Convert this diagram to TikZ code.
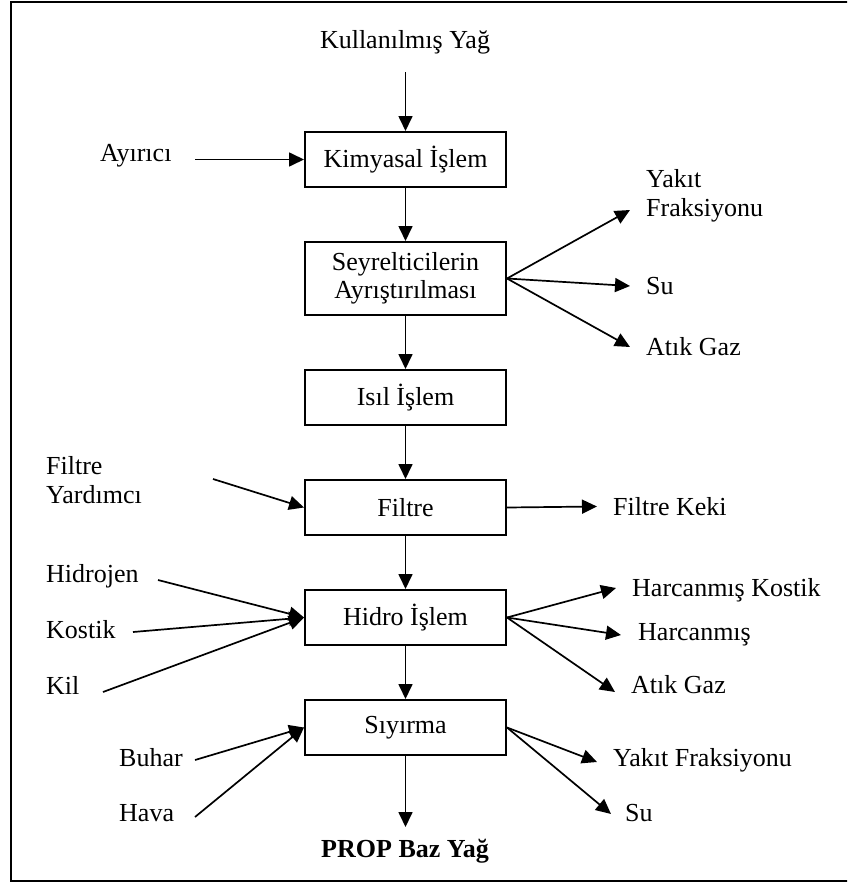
\documentclass[tikz,border=0pt]{standalone}
\usepackage{fontspec}
\setmainfont{Liberation Serif}
\usetikzlibrary{arrows.meta,positioning}

\begin{document}
\begin{tikzpicture}[x=1pt, y=-1pt, node distance=110pt,
    box/.style={draw, rectangle, line width=2pt, minimum width=201pt, minimum height=55pt, align=center, font=\fontsize{26}{28.5}\selectfont},
    lbl/.style={inner sep=0pt, anchor=west, align=left, font=\fontsize{26}{28.5}\selectfont},
    flow/.style={-{Triangle[length=15pt,width=14pt]}, line width=1.7pt}]
        \clip (0,0) rectangle (847,883);
        \draw[line width=2.5pt] (11,2) rectangle (880,881);

        % Nodes
        \node[box] (Kimya) at (405.5,159.5) {Kimyasal İşlem};
        \node[box, below of=Kimya, yshift=-9pt, minimum height=73pt] (Seyr) {Seyrelticilerin\\Ayrıştırılması};
        \node[box, below of=Seyr, yshift=-9pt] (Isil) {Isıl İşlem};
        \node[box, below of=Isil] (Filtre) {Filtre};
        \node[box, below of=Filtre] (Hidro) {Hidro İşlem};
        \node[box, below of=Hidro] (Siyir) {Sıyırma};

        % Inputs and outputs
        \node[lbl, anchor=center] (Kul) at (405,42) {Kullanılmış Yağ};
        \node[lbl] (Ayr) at (100,156) {Ayırıcı};
        \node[lbl] (Yakit1) at (646,196) {Yakıt\\Fraksiyonu};
        \node[lbl] (Su1) at (646,286) {Su};
        \node[lbl] (Atik1) at (646,347) {Atık Gaz};
        \node[lbl] (Yard) at (46,480) {Filtre\\Yardımcı};
        \node[lbl] (Kek) at (613,507) {Filtre Keki};
        \node[lbl] (Hidrojen) at (46,576) {Hidrojen};
        \node[lbl] (Kostik) at (46,630) {Kostik};
        \node[lbl] (Kil) at (46,685) {Kil};
        \node[lbl] (HarKos) at (632,590) {Harcanmış Kostik};
        \node[lbl] (Harc) at (638,635) {Harcanmış};
        \node[lbl] (Atik2) at (631,685) {Atık Gaz};
        \node[lbl] (Buhar) at (119,758) {Buhar};
        \node[lbl] (Hava) at (119,813) {Hava};
        \node[lbl] (Yakit2) at (613,760) {Yakıt Fraksiyonu};
        \node[lbl] (Su2) at (625,813) {Su};
        \node[lbl, anchor=center, font=\fontsize{26}{28.5}\selectfont\bfseries] (Prop) at (405,851) {PROP Baz Yağ};

        % Arrow ends
        \coordinate (cKul) at (405.5,72);
        \coordinate (cAyr) at (195,159.5);
        \coordinate (tYakit1) at (630,210);
        \coordinate (tSu1) at (630,286);
        \coordinate (tAtik1) at (630,347);
        \coordinate (cYard) at (213,479);
        \coordinate (tKek) at (597,506.5);
        \coordinate (cHidrojen) at (158,580);
        \coordinate (cKostik) at (133,632);
        \coordinate (cKil) at (103,692);
        \coordinate (tHarKos) at (616,588);
        \coordinate (tHarc) at (621,635);
        \coordinate (tAtik2) at (615,692);
        \coordinate (cBuhar) at (195,760);
        \coordinate (cHava) at (195,817);
        \coordinate (tYakit2) at (597,762);
        \coordinate (tSu2) at (611,814);
        \coordinate (tProp) at (405.5,827);

        % Arrows
        \draw[flow] (cKul) -- (Kimya);
        \draw[flow] (cAyr) -- (Kimya.west);
        \draw[flow] (Kimya) -- (Seyr);
        \draw[flow] (Seyr.east) -- (tYakit1);
        \draw[flow] (Seyr.east) -- (tSu1);
        \draw[flow] (Seyr.east) -- (tAtik1);
        \draw[flow] (Seyr) -- (Isil);
        \draw[flow] (Isil) -- (Filtre);
        \draw[flow] (cYard) -- (Filtre.west);
        \draw[flow] (Filtre.east) -- (tKek);
        \draw[flow] (Filtre) -- (Hidro);
        \draw[flow] (cHidrojen) -- (Hidro.west);
        \draw[flow] (cKostik) -- (Hidro.west);
        \draw[flow] (cKil) -- (Hidro.west);
        \draw[flow] (Hidro.east) -- (tHarKos);
        \draw[flow] (Hidro.east) -- (tHarc);
        \draw[flow] (Hidro.east) -- (tAtik2);
        \draw[flow] (Hidro) -- (Siyir);
        \draw[flow] (cBuhar) -- (Siyir.west);
        \draw[flow] (cHava) -- (Siyir.west);
        \draw[flow] (Siyir.east) -- (tYakit2);
        \draw[flow] (Siyir.east) -- (tSu2);
        \draw[flow] (Siyir) -- (tProp);
\end{tikzpicture}
\end{document}
